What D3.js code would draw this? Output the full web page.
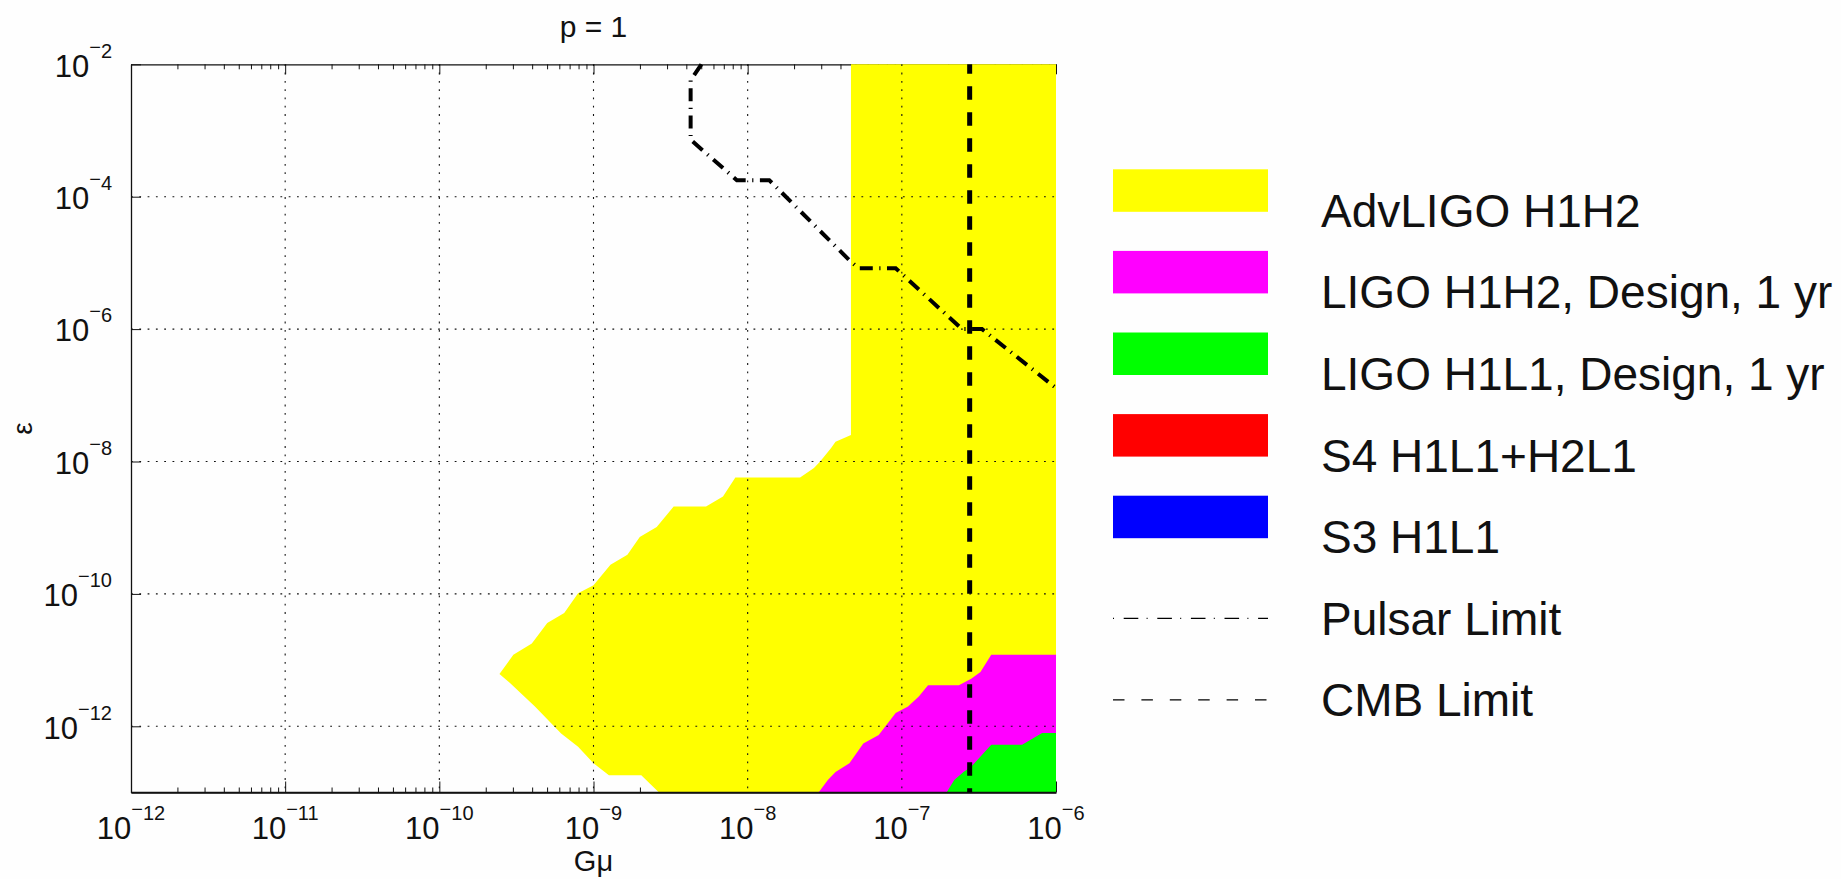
<!DOCTYPE html>
<html>
<head>
<meta charset="utf-8">
<script src="https://cdn.jsdelivr.net/npm/d3@7"></script>
<style>
  html, body { margin: 0; padding: 0; background: #fefefe; }
  svg { display: block; font-family: "Liberation Sans", Arial, sans-serif; }
</style>
</head>
<body>
<svg id="chart" width="1841" height="879"></svg>
<script>
// ---- Data (exponents: log10 Gμ, log10 ε) ----
const gmuDomain = [1e-12, 1e-6];
const epsDomain = [1e-13, 1e-2];
const xTickExps = [-12, -11, -10, -9, -8, -7, -6];
const yTickExps = [-12, -10, -8, -6, -4, -2];

// Excluded regions (boundary vertices)
const advLigoH1H2 = [
  [-7.33, -2.00], [-7.33, -7.60], [-7.43, -7.70], [-7.46, -7.80], [-7.53, -8.00],
  [-7.57, -8.10], [-7.66, -8.24], [-8.08, -8.24], [-8.16, -8.53], [-8.27, -8.68],
  [-8.48, -8.68], [-8.59, -8.99], [-8.70, -9.14], [-8.78, -9.41], [-8.89, -9.56],
  [-9.00, -9.87], [-9.10, -9.99], [-9.19, -10.29], [-9.30, -10.44], [-9.40, -10.75],
  [-9.52, -10.92], [-9.61, -11.21], [-9.54, -11.35], [-9.38, -11.70], [-9.21, -12.11],
  [-9.10, -12.31], [-9.00, -12.56], [-8.90, -12.74], [-8.69, -12.74], [-8.575, -13.00],
  [-6.00, -13.00], [-6.00, -2.00]
];
const ligoH1H2Design = [
  [-7.54, -13.00], [-7.48, -12.81], [-7.43, -12.69], [-7.34, -12.56], [-7.25, -12.26],
  [-7.15, -12.13], [-7.04, -11.80], [-6.96, -11.70], [-6.89, -11.55], [-6.83, -11.38],
  [-6.63, -11.38], [-6.55, -11.28], [-6.49, -11.18], [-6.42, -10.92], [-6.00, -10.92],
  [-6.00, -13.00]
];
const ligoH1L1Design = [
  [-6.71, -13.00], [-6.66, -12.81], [-6.60, -12.69], [-6.55, -12.61], [-6.42, -12.28],
  [-6.22, -12.28], [-6.09, -12.10], [-6.00, -12.10], [-6.00, -13.00]
];
const s4H1L1H2L1 = [];
const s3H1L1 = [];

// Limits
const pulsarLimit = [
  [-8.30, -2.00], [-8.37, -2.24], [-8.37, -3.14], [-8.07, -3.75], [-7.86, -3.75],
  [-7.34, -4.96], [-7.28, -5.08], [-7.04, -5.08], [-6.61, -6.00], [-6.48, -6.00],
  [-6.00, -6.89]
];
const cmbLimitExp = -6.56;

const regionLabels = ["AdvLIGO H1H2", "LIGO H1H2, Design, 1 yr", "LIGO H1L1, Design, 1 yr", "S4 H1L1+H2L1", "S3 H1L1"];
const regionColors = ["#ffff00", "#ff00ff", "#00ff00", "#ff0000", "#0000ff"];
const regionData = [advLigoH1H2, ligoH1H2Design, ligoH1L1Design, s4H1L1H2L1, s3H1L1];
const lineLabels = ["Pulsar Limit", "CMB Limit"];

// ---- Layout ----
const W = 1841, H = 879;
const plot = { left: 131, right: 1056, top: 64.3, bottom: 792.5 };
const ink = "#111";

const svg = d3.select("#chart");
svg.append("rect").attr("width", W).attr("height", H).attr("fill", "#fefefe");

const x = d3.scaleLog().domain(gmuDomain).range([plot.left, plot.right]);
const y = d3.scaleLog().domain(epsDomain).range([plot.bottom, plot.top]);
const p10 = e => Math.pow(10, e);

const xMajor = xTickExps.map(p10);
const xMinor = [];
for (let d = -12; d < -6; d++) for (let k = 2; k <= 9; k++) xMinor.push(k * p10(d));
const yMajor = yTickExps.map(p10);

function styleAxis(g, keepDomain) {
  g.select(".domain").attr("stroke", keepDomain ? ink : "none").attr("stroke-width", 1.3);
  g.selectAll(".tick line").attr("stroke", ink).attr("stroke-width", 1);
  g.selectAll(".tick text").remove();
}

// Axes box and ticks (patches are painted over them)
const gAxes = svg.append("g");
gAxes.append("g").attr("transform", `translate(0,${plot.top})`)
  .call(d3.axisTop(x).tickValues(xMajor).tickSizeInner(-10).tickSizeOuter(0).tickFormat(() => ""))
  .call(g => styleAxis(g, true));
gAxes.append("g").attr("transform", `translate(0,${plot.top})`)
  .call(d3.axisTop(x).tickValues(xMinor).tickSizeInner(-5).tickSizeOuter(0).tickFormat(() => ""))
  .call(g => styleAxis(g, false));
gAxes.append("g").attr("transform", `translate(0,${plot.bottom})`)
  .call(d3.axisBottom(x).tickValues(xMajor).tickSizeInner(-11).tickSizeOuter(0).tickFormat(() => ""))
  .call(g => styleAxis(g, true));
gAxes.append("g").attr("transform", `translate(0,${plot.bottom})`)
  .call(d3.axisBottom(x).tickValues(xMinor).tickSizeInner(-5).tickSizeOuter(0).tickFormat(() => ""))
  .call(g => styleAxis(g, false));
gAxes.append("g").attr("transform", `translate(${plot.left},0)`)
  .call(d3.axisLeft(y).tickValues(yMajor).tickSizeInner(-10).tickSizeOuter(0).tickFormat(() => ""))
  .call(g => styleAxis(g, true));

// Clip for the filled regions
svg.append("defs").append("clipPath").attr("id", "plotClip")
  .append("rect")
  .attr("x", plot.left).attr("y", plot.top - 1.5)
  .attr("width", plot.right - plot.left + 1.5).attr("height", plot.bottom - plot.top + 1.5);

const line = d3.line().x(d => x(p10(d[0]))).y(d => y(p10(d[1])));

const gRegions = svg.append("g").attr("clip-path", "url(#plotClip)");
regionData.forEach((pts, i) => {
  if (!pts.length) return;
  gRegions.append("path").attr("d", line(pts) + "Z").attr("fill", regionColors[i]).attr("stroke", "none");
});

// Dotted grid on top of the regions
const gGrid = svg.append("g").attr("stroke", ink).attr("stroke-width", 1.1).attr("stroke-dasharray", "1.8,6.5");
xTickExps.slice(1, -1).forEach(e => {
  gGrid.append("line").attr("x1", x(p10(e))).attr("x2", x(p10(e)))
    .attr("y1", plot.top).attr("y2", plot.bottom);
});
yTickExps.slice(0, -1).forEach(e => {
  gGrid.append("line").attr("x1", plot.left).attr("x2", plot.right)
    .attr("y1", y(p10(e))).attr("y2", y(p10(e)));
});

// Bottom axis line stays visible over the regions
svg.append("line").attr("x1", plot.left).attr("x2", plot.right)
  .attr("y1", plot.bottom).attr("y2", plot.bottom)
  .attr("stroke", ink).attr("stroke-width", 1.4);

// Limit curves
const gLines = svg.append("g").attr("clip-path", "url(#plotClip)");
gLines.append("path").attr("d", line(pulsarLimit))
  .attr("fill", "none").attr("stroke", "#000").attr("stroke-width", 4)
  .attr("stroke-dasharray", "13,6.5,1.2,6.5");
gLines.append("line")
  .attr("x1", x(p10(cmbLimitExp))).attr("x2", x(p10(cmbLimitExp)))
  .attr("y1", y(epsDomain[1])).attr("y2", y(epsDomain[0]))
  .attr("stroke", "#000").attr("stroke-width", 5)
  .attr("stroke-dasharray", "13.5,12.5").attr("stroke-dashoffset", 4);

// Tick labels: 10 with superscript exponent
function powerLabel(t, e) {
  t.append("tspan").text("10");
  t.append("tspan").attr("font-size", 20).attr("dy", -23).text("\u2212");
  t.append("tspan").attr("font-size", 20).attr("dy", 4).text(String(Math.abs(e)));
}
const gLabels = svg.append("g").attr("fill", ink).attr("font-size", 31);
xTickExps.forEach(e => {
  gLabels.append("text").attr("x", x(p10(e))).attr("y", plot.bottom + 46)
    .attr("text-anchor", "middle").call(t => powerLabel(t, e));
});
yTickExps.forEach(e => {
  gLabels.append("text").attr("x", plot.left - 19).attr("y", y(p10(e)) + 12.3)
    .attr("text-anchor", "end").call(t => powerLabel(t, e));
});

// Title and axis titles
const cx = (plot.left + plot.right) / 2;
svg.append("text").attr("x", cx).attr("y", 36.5).attr("text-anchor", "middle")
  .attr("font-size", 30).attr("fill", ink).text("p = 1");
svg.append("text").attr("x", cx).attr("y", 871).attr("text-anchor", "middle")
  .attr("font-size", 29).attr("fill", ink).text("G\u03bc");
svg.append("text").attr("transform", `translate(32,${(plot.top + plot.bottom) / 2}) rotate(-90)`)
  .attr("text-anchor", "middle").attr("font-size", 28).attr("fill", ink).text("\u03b5");

// Legend
const leg = { x: 1113, w: 155, h: 42.5, top: 169.3, step: 81.6, textX: 1321, baseline: 57.5 };
const gLeg = svg.append("g").attr("font-size", 46).attr("fill", ink);
regionLabels.forEach((lab, i) => {
  const ty = leg.top + i * leg.step;
  gLeg.append("rect").attr("x", leg.x).attr("y", ty).attr("width", leg.w).attr("height", leg.h)
    .attr("fill", regionColors[i]);
  gLeg.append("text").attr("x", leg.textX).attr("y", ty + leg.baseline).text(lab);
});
const lineDash = ["1,9.7,14.6,8.3", "11.5,16.9"];
lineLabels.forEach((lab, j) => {
  const i = regionLabels.length + j;
  const base = leg.top + i * leg.step + leg.baseline;
  gLeg.append("line").attr("x1", leg.x).attr("x2", leg.x + leg.w)
    .attr("y1", base - 16.5).attr("y2", base - 16.5)
    .attr("stroke", "#000").attr("stroke-width", 1.2).attr("stroke-dasharray", lineDash[j]);
  gLeg.append("text").attr("x", leg.textX).attr("y", base).text(lab);
});
</script>
</body>
</html>
